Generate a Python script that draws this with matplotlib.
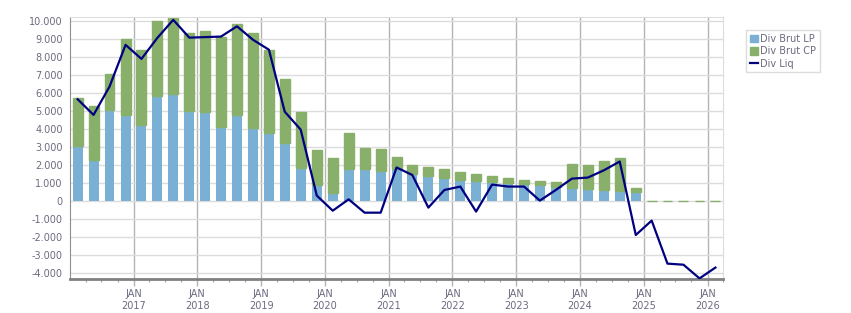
import pandas as pd
import matplotlib
matplotlib.use('Agg')
import matplotlib.pyplot as plt
import matplotlib.ticker as mticker
from matplotlib.patches import Patch
from matplotlib.lines import Line2D

# Quarterly values, Q1 2016 -> Q1 2026
quarters = pd.period_range('2016Q1', '2026Q1', freq='Q')

div_brut_lp = [3070, 2300, 5070, 4780, 4220, 5850, 5960, 5000,
               4960, 4110, 4780, 4070, 3780, 3220, 1830, 890,
               440, 1780, 1780, 1670, 1800, 1520, 1410, 1300,
               1190, 1110, 1070, 1000, 960, 890, 780, 720,
               670, 630, 560, 520,
               0, 0, 0, 0, 0]
div_brut_cp = [2650, 2980, 2000, 4220, 4170, 4150, 4230, 4330,
               4480, 5020, 5050, 5260, 4610, 3560, 3110, 1940,
               1950, 2000, 1160, 1220, 640, 480, 480, 480,
               420, 390, 320, 280, 210, 220, 280, 1350,
               1330, 1590, 1850, 200,
               0, 0, 0, 0, 0]
div_liq = [5650, 4780, 6350, 8670, 7890, 9050, 10060, 9070,
           9100, 9130, 9700, 8950, 8400, 4960, 3960, 300,
           -540, 90, -650, -650, 1860, 1440, -370, 610,
           800, -590, 910, 800, 800, 20, 610, 1240,
           1300, 1700, 2190, -1890,
           -1090, -3480, -3540, -4300, -3700]

years = list(range(2017, 2027))

c_lp = '#7ab0d4'
c_cp = '#88b06a'
c_liq = '#000080'
c_text = '#6b6b80'

x = quarters.start_time + (quarters.end_time - quarters.start_time) / 2

fig = plt.figure(figsize=(8.51, 3.13), dpi=100)
ax = fig.add_axes([0.0819, 0.1077, 0.768, 0.837])

ax.bar(x, div_brut_lp, width=57, color=c_lp, linewidth=0, zorder=2)
ax.bar(x, div_brut_cp, bottom=div_brut_lp, width=57, color=c_cp,
       edgecolor=c_cp, linewidth=1.0, zorder=2)
ax.plot(x, div_liq, color=c_liq, linewidth=1.6, zorder=3)

ax.set_xlim(pd.Timestamp('2016-01-01'), pd.Timestamp('2026-04-01'))
ax.set_ylim(-4350, 10200)

ax.yaxis.set_major_locator(mticker.MultipleLocator(1000))
ax.yaxis.set_major_formatter(mticker.FuncFormatter(
    lambda v, p: f'{int(round(v)):,}'.replace(',', '.')))

ax.set_xticks([pd.Timestamp(f'{y}-01-01') for y in years])
ax.set_xticklabels([f'JAN\n{y}' for y in years])
ax.set_xticks(pd.date_range('2016-04-01', '2026-04-01', freq='QS'), minor=True)

ax.grid(axis='y', color='#dcdcdc', linewidth=1, zorder=0)
ax.grid(axis='x', which='major', color='#b4b4b4', linewidth=1, zorder=0)
ax.set_axisbelow(True)

ax.tick_params(axis='y', length=0, pad=5, labelsize=7, labelcolor=c_text)
ax.tick_params(axis='x', which='major', length=5, color='#b4b4b4',
               width=1, pad=2, labelsize=7, labelcolor=c_text)
ax.tick_params(axis='x', which='minor', length=2.5, color='#a0a0a0', width=0.8)

for side in ['top', 'right']:
    ax.spines[side].set_color('#dcdcdc')
ax.spines['left'].set_color('#909090')
ax.spines['bottom'].set_color('#808080')
ax.spines['bottom'].set_linewidth(2)

handles = [Patch(color=c_lp, label='Div Brut LP'),
           Patch(color=c_cp, label='Div Brut CP'),
           Line2D([0], [0], color=c_liq, linewidth=1.6, label='Div Liq')]
leg = fig.legend(handles=handles, loc='upper left',
                 bbox_to_anchor=(0.877, 0.903), fontsize=7,
                 handlelength=0.8, handleheight=0.8, handletextpad=0.3,
                 borderpad=0.35, labelspacing=0.25, fancybox=False,
                 framealpha=1, edgecolor='#dcdcdc', borderaxespad=0)
for t in leg.get_texts():
    t.set_color(c_text)
leg.get_frame().set_linewidth(1)

fig.savefig('out.png', dpi=100)
